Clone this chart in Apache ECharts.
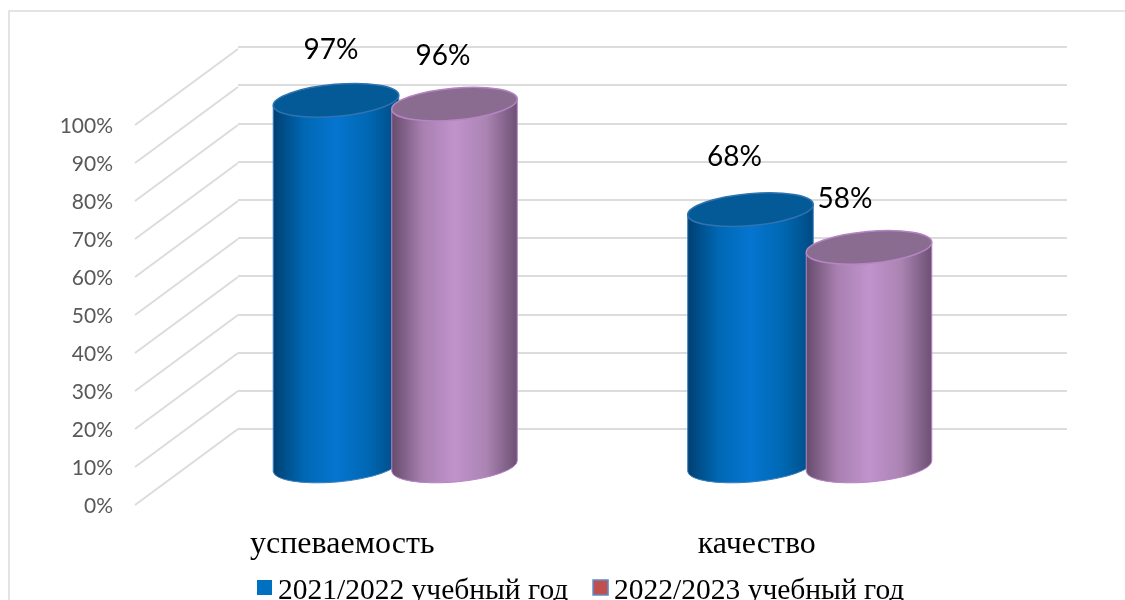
<!DOCTYPE html>
<html>
<head>
<meta charset="utf-8">
<style>
  html, body { margin: 0; padding: 0; background: #fff; }
  #chart { width: 1125px; height: 600px; }
</style>
<script src="https://cdn.jsdelivr.net/npm/echarts@6/dist/echarts.min.js"></script>
</head>
<body>
<div id="chart"></div>
<script>
const categories = ["успеваемость", "качество"];
const seriesNames = ["2021/2022 учебный год", "2022/2023 учебный год"];
const values2122 = [97, 68];
const values2223 = [96, 58];
const axisTicks = [0, 10, 20, 30, 40, 50, 60, 70, 80, 90, 100];

// hand-placed data labels, same as in the picture
const labelNudge = [
  [[-5, -50], [-16, -52.5]],
  [[-11.5, -48], [-24, -48]]
];

const blueLook = {
  stroke: "#3f7fc0",
  top: "#035a96",
  topStroke: "#2f74b0",
  stops: ["#003f70", "#0068b4", "#0575d0", "#0068b4", "#004a80"]
};
const purpleLook = {
  stroke: "#b685c4",
  top: "#8b6c91",
  topStroke: "#b685c4",
  stops: ["#654a6b", "#a880b0", "#c193cd", "#ab84b3", "#6b4f72"]
};

const TILT = -5; // degrees
const DEPTH_X = 103;
const DEPTH_Y = -76;
const LABEL_DROP = 1.5; // tick labels sit a bit under the line start

function cylinder(look, side, seriesIdx) {
  return function (params, api) {
    const cat = api.value(0);
    const val = api.value(1);
    const band = api.size([1, 0])[0];
    const center = api.coord([cat, 0])[0] + side * band * 0.143;
    const yTop = api.coord([cat, val])[1];
    const yBase = api.coord([cat, 0])[1];
    const rx = band * 0.152;
    const ry = 16;
    const rad = (TILT * Math.PI) / 180;
    const dx = rx * Math.cos(rad);
    const dy = rx * Math.sin(rad);
    const xl = center - dx;
    const xr = center + dx;
    const body =
      "M" + xl + " " + (yTop - dy) +
      "L" + xl + " " + (yBase - dy) +
      "A" + rx + " " + ry + " " + TILT + " 0 0 " + xr + " " + (yBase + dy) +
      "L" + xr + " " + (yTop + dy) + "Z";
    const lid =
      "M" + xl + " " + (yTop - dy) +
      "A" + rx + " " + ry + " " + TILT + " 1 1 " + xr + " " + (yTop + dy) +
      "A" + rx + " " + ry + " " + TILT + " 1 1 " + xl + " " + (yTop - dy) + "Z";
    const stops = look.stops.map((c, i) => ({ offset: i / (look.stops.length - 1), color: c }));
    const nudge = labelNudge[seriesIdx][params.dataIndex];
    return {
      type: "group",
      children: [
        {
          type: "path",
          shape: { pathData: body },
          style: {
            fill: { type: "linear", x: 0, y: 0, x2: 1, y2: 0, colorStops: stops },
            stroke: look.stroke,
            lineWidth: 1
          }
        },
        {
          type: "path",
          shape: { pathData: lid },
          style: { fill: look.top, stroke: look.topStroke, lineWidth: 1.5 }
        },
        {
          type: "text",
          x: center + nudge[0],
          y: yTop + nudge[1],
          style: {
            text: val + "%",
            fill: "#000",
            font: "28px Lato",
            align: "center",
            verticalAlign: "middle"
          }
        }
      ]
    };
  };
}

function depthLine(params, api) {
  const y = api.coord([0, api.value(0)])[1] - LABEL_DROP;
  const x = params.coordSys.x;
  return {
    type: "line",
    shape: { x1: x, y1: y, x2: x + DEPTH_X, y2: y + DEPTH_Y },
    style: { stroke: "#dcdcdc", lineWidth: 2 }
  };
}

const chart = echarts.init(document.getElementById("chart"));
chart.setOption({
  animation: false,
  backgroundColor: "#fff",
  graphic: [
    {
      type: "rect",
      shape: { x: 9, y: 11, width: 1130, height: 600 },
      style: { fill: "none", stroke: "#dcdcdc", lineWidth: 1.5 },
      silent: true
    }
  ],
  legend: {
    left: 252,
    top: 571,
    itemGap: 24,
    itemWidth: 15,
    itemHeight: 22,
    // square in the upper part of the item, the legend centres markers lower than the picture has them
    icon: "path://M0 0H15V15H0ZM0 22L0 22",
    textStyle: { fontFamily: "Liberation Serif", fontSize: 29.5, color: "#000", padding: [0, 0, 0, 1] },
    data: [
      { name: seriesNames[0], itemStyle: { color: "#0070c0" } },
      { name: seriesNames[1], itemStyle: { color: "#c0504d", borderColor: "#5b8cc8", borderWidth: 1.5 } }
    ]
  },
  // back wall, middle plane (cylinders), front plane (labels)
  grid: [
    { left: 238, right: 58, top: 47, bottom: 171 },
    { left: 188, right: 108, top: 89, bottom: 134 },
    { left: 135, right: 161, top: 125 + LABEL_DROP, bottom: 95 - LABEL_DROP }
  ],
  xAxis: [
    { gridIndex: 0, type: "category", data: categories, axisLine: { show: false }, axisTick: { show: false }, axisLabel: { show: false } },
    { gridIndex: 1, type: "category", data: categories, axisLine: { show: false }, axisTick: { show: false }, axisLabel: { show: false } },
    {
      gridIndex: 2,
      type: "category",
      data: categories,
      axisLine: { show: false },
      axisTick: { show: false },
      axisLabel: { color: "#000", fontFamily: "Liberation Serif", fontSize: 32, margin: 22.5 }
    }
  ],
  yAxis: [
    {
      gridIndex: 0, type: "value", min: 0, max: 100, interval: 10,
      axisLabel: { show: false },
      splitLine: { lineStyle: { color: "#dcdcdc", width: 2 } }
    },
    { gridIndex: 1, type: "value", min: 0, max: 100, interval: 10, axisLabel: { show: false }, splitLine: { show: false } },
    {
      gridIndex: 2, type: "value", min: 0, max: 100, interval: 10,
      splitLine: { show: false },
      axisLabel: { color: "#595959", fontFamily: "Lato", fontSize: 21, margin: 22, formatter: "{value}%" }
    }
  ],
  series: [
    {
      type: "custom",
      xAxisIndex: 2,
      yAxisIndex: 2,
      silent: true,
      data: axisTicks.map((t) => [t]),
      encode: { y: 0 },
      renderItem: depthLine
    },
    {
      name: seriesNames[0],
      type: "custom",
      xAxisIndex: 1,
      yAxisIndex: 1,
      itemStyle: { color: "#0070c0" },
      data: values2122.map((v, i) => [i, v]),
      encode: { x: 0, y: 1 },
      renderItem: cylinder(blueLook, -1, 0)
    },
    {
      name: seriesNames[1],
      type: "custom",
      xAxisIndex: 1,
      yAxisIndex: 1,
      itemStyle: { color: "#c0504d" },
      data: values2223.map((v, i) => [i, v]),
      encode: { x: 0, y: 1 },
      renderItem: cylinder(purpleLook, 1, 1)
    }
  ]
});
</script>
</body>
</html>
